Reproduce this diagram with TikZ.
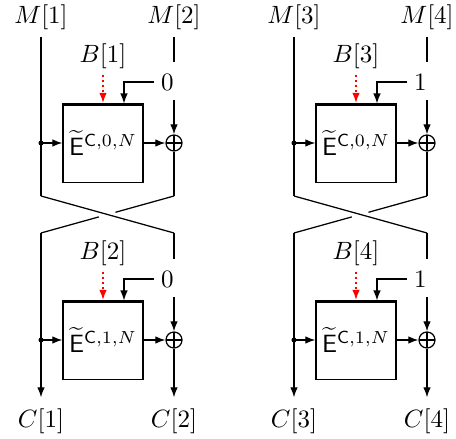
\documentclass[tikz,border=0pt]{standalone}
\usetikzlibrary{arrows.meta,calc}
\tikzset{
  x=0.4pt, y=-0.4pt,
  every path/.style={line width=0.5pt},
  arr/.style={-{Latex[length=4pt,width=3pt]}},
  redarr/.style={red, dash pattern=on 1pt off 1pt, -{Latex[length=4pt,width=3pt]}},
  ebox/.style={draw, minimum width=32pt, minimum height=31.6pt, inner sep=0pt},
  xor/.style={draw, circle, minimum size=6.4pt, inner sep=0pt,
    path picture={\draw (path picture bounding box.north) -- (path picture bounding box.south)
      (path picture bounding box.west) -- (path picture bounding box.east);}},
  mlbl/.style={inner sep=2.4pt},
  clbl/.style={inner sep=4.4pt},
  blbl/.style={inner sep=2.2pt},
  klbl/.style={inner sep=2.8pt},
  bar/.style={line width=1.4pt},
}
\newcommand{\halfround}[5]{%
  \begin{scope}[shift={(0,#2)}]
    \node[ebox] (#1box) at (103,143) {$\widetilde{\mathsf{E}}^{\mathsf{C},#5,N}$};
    \draw[bar] ([yshift=-0.7pt]#1box.north west) -- ([yshift=-0.7pt]#1box.north east);
    \node[xor] (#1x) at (174,143) {};
    \node[blbl] (#1b) at (103,56) {$B[#3]$};
    \node[klbl] (#1k) at (167.5,82) {$#4$};
    \coordinate (#1kin) at (124,103.5);
    \coordinate (#1dot) at (41,143);
    \coordinate (#1re) at (174,62);
    \coordinate (#1rs) at (174,100);
    \fill (#1dot) circle[radius=1pt];
    \draw[arr] (#1dot) -- (#1box.west);
    \draw[arr] (#1box.east) -- (#1x.west);
    \draw[arr] (#1k.west) -| (#1kin);
    \draw[redarr] (#1b.south) -- (#1b.south |- #1box.north);
    \draw[arr] (#1rs) -- (#1x.north);
  \end{scope}}
\newcommand{\fround}[5]{%
  \begin{scope}[shift={(#2,0)}]
    \node[mlbl] (#1ml) at (41,17.5) {$M[#3]$};
    \node[mlbl] (#1mr) at (174,17.5) {$M[#4]$};
    \halfround{#1u}{0}{#3}{#5}{0}
    \halfround{#1d}{197}{#4}{#5}{1}
    \coordinate (#1cTL) at (41,196);
    \coordinate (#1cTR) at (174,196);
    \coordinate (#1cBL) at (41,233);
    \coordinate (#1cBR) at (174,233);
    \node[clbl] (#1cl) at (41,421.5) {$C[#3]$};
    \node[clbl] (#1cr) at (174,421.5) {$C[#4]$};
    \draw (#1ml) -- (#1cTL);
    \draw (#1mr) -- (#1ure);
    \draw (#1ux.south) -- (#1cTR);
    \draw (#1cTL) -- (#1cBR);
    \draw (#1cTR) -- ($(#1cTR)!0.44!(#1cBL)$);
    \draw ($(#1cTR)!0.565!(#1cBL)$) -- (#1cBL);
    \draw[arr] (#1cBL) -- (#1cl);
    \draw (#1cBR) -- (#1dre);
    \draw[arr] (#1dx.south) -- (#1cr);
  \end{scope}}
\begin{document}
\begin{tikzpicture}
\useasboundingbox (0,0) rectangle (456,439);
\fround{a}{0}{1}{2}{0}
\fround{b}{253}{3}{4}{1}
\end{tikzpicture}
\end{document}
